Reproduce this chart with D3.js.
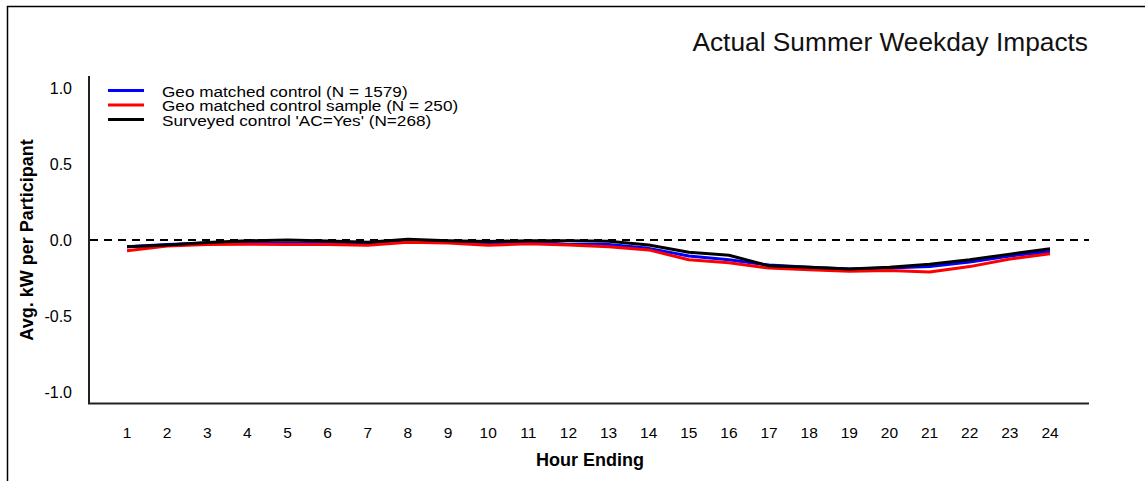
<!DOCTYPE html>
<html>
<head>
<meta charset="utf-8">
<script src="https://cdn.jsdelivr.net/npm/d3@7"></script>
<style>
  body { margin: 0; background: #fff; }
  text { font-family: Arial, "Liberation Sans", sans-serif; }
</style>
</head>
<body>
<div id="container"></div>
<script>
    // data
    const hours = d3.range(1, 25);
    const geoAll = [-0.045, -0.03, -0.02, -0.02, -0.022, -0.02, -0.02, -0.005, -0.015, -0.02, -0.01, -0.03,
                    -0.03, -0.055, -0.105, -0.13, -0.165, -0.18, -0.19, -0.185, -0.175, -0.145, -0.105, -0.075];
    const geoSample = [-0.07, -0.04, -0.03, -0.028, -0.03, -0.03, -0.035, -0.015, -0.02, -0.035, -0.025, -0.033,
                       -0.045, -0.065, -0.13, -0.15, -0.185, -0.195, -0.205, -0.2, -0.21, -0.175, -0.125, -0.09];
    const surveyed = [-0.044, -0.033, -0.016, -0.005, 0, -0.007, -0.015, 0.005, -0.005, -0.01, -0.005, -0.005,
                      -0.008, -0.033, -0.08, -0.1, -0.17, -0.18, -0.19, -0.18, -0.16, -0.13, -0.093, -0.057];
    const seriesNames = ["Geo matched control (N = 1579)", "Geo matched control sample (N = 250)", "Surveyed control 'AC=Yes' (N=268)"];
    const seriesColors = ["#0000ff", "#ff0000", "#000000"];
    const yTicks = [1.0, 0.5, 0.0, -0.5, -1.0];

    const width = 1145;
    const height = 481;

    const svg = d3.create("svg")
        .attr("width", width)
        .attr("height", height);

    // outer frame
    svg.append("rect")
        .attr("x", 7.5)
        .attr("y", 6.5)
        .attr("width", 1200)
        .attr("height", 600)
        .attr("fill", "none")
        .attr("stroke", "#000")
        .attr("stroke-width", 1.5);

    const x = d3.scaleLinear().domain([1, 24]).range([127, 1050]);
    const y = d3.scaleLinear().domain([-1, 1]).range([392, 88]);

    // title
    svg.append("text")
        .attr("x", 1088)
        .attr("y", 51)
        .attr("text-anchor", "end")
        .attr("font-size", 26.3)
        .attr("fill", "#111")
        .text("Actual Summer Weekday Impacts");

    // axes lines (no tick marks)
    svg.append("line")
        .attr("x1", 89).attr("y1", 76)
        .attr("x2", 89).attr("y2", 404)
        .attr("stroke", "#222").attr("stroke-width", 2);
    svg.append("line")
        .attr("x1", 88).attr("y1", 403.5)
        .attr("x2", 1089).attr("y2", 403.5)
        .attr("stroke", "#222").attr("stroke-width", 2);

    // y tick labels
    svg.append("g")
        .selectAll("text")
        .data(yTicks)
        .join("text")
        .attr("x", 72)
        .attr("y", d => y(d))
        .attr("dy", "0.36em")
        .attr("text-anchor", "end")
        .attr("font-size", 16)
        .text(d => d.toFixed(1));

    // x tick labels
    svg.append("g")
        .selectAll("text")
        .data(hours)
        .join("text")
        .attr("x", d => x(d))
        .attr("y", 438)
        .attr("text-anchor", "middle")
        .attr("font-size", 15.5)
        .attr("font-family", "'Liberation Sans Narrow', Arial, sans-serif")
        .text(d => d);

    // axis titles
    svg.append("text")
        .attr("x", 590)
        .attr("y", 466)
        .attr("text-anchor", "middle")
        .attr("font-size", 18)
        .attr("font-weight", "bold")
        .attr("font-family", "'Liberation Sans Narrow', Arial, sans-serif")
        .text("Hour Ending");

    svg.append("text")
        .attr("transform", "translate(33,240) rotate(-90)")
        .attr("text-anchor", "middle")
        .attr("font-size", 18)
        .attr("font-weight", "bold")
        .text("Avg. kW per Participant");

    // zero reference
    svg.append("line")
        .attr("x1", 90).attr("y1", y(0))
        .attr("x2", 1089).attr("y2", y(0))
        .attr("stroke", "#000")
        .attr("stroke-width", 1.8)
        .attr("stroke-dasharray", "8,6");

    // lines
    const line = d3.line()
        .x((d, i) => x(hours[i]))
        .y(d => y(d));

    [geoAll, geoSample, surveyed].forEach((s, i) => {
        svg.append("path")
            .attr("d", line(s))
            .attr("fill", "none")
            .attr("stroke", seriesColors[i])
            .attr("stroke-width", 3)
            .attr("stroke-linejoin", "round");
    });

    // legend (text is wide and tightly stacked, as in the original)
    const legend = svg.append("g");
    seriesNames.forEach((name, i) => {
        const ly = 90.5 + i * 14.5;
        legend.append("line")
            .attr("x1", 108).attr("x2", 144)
            .attr("y1", ly).attr("y2", ly)
            .attr("stroke", seriesColors[i])
            .attr("stroke-width", 3);
        legend.append("text")
            .attr("transform", `translate(162,${ly + 6}) scale(1.13,1)`)
            .attr("font-size", 15.2)
            .text(name);
    });

    container.append(svg.node());
</script>
</body>
</html>
